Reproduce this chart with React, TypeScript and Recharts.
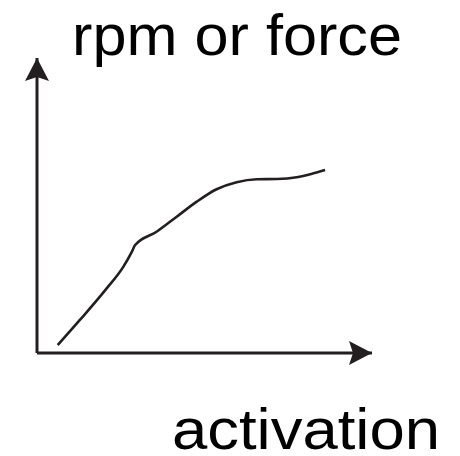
import { LineChart, Line, XAxis, YAxis, ReferenceLine, ReferenceDot } from "recharts";

// activation (x) and rpm/force (y), in arbitrary 0-100 units
const activation = [6.2, 12.8, 20.8, 25.8, 28.3, 29.3, 35.7, 41.7, 47.7, 53.6, 59.6, 65.6, 71.6, 77.5, 82.5, 86.0];
const response = [2.7, 11.2, 21.9, 29.3, 34.3, 36.6, 41.1, 46.2, 51.3, 55.5, 57.9, 58.9, 59.0, 59.6, 60.9, 62.0];

const yTitle = "rpm or force";
const xTitle = "activation";

const data = activation.map((x, i) => ({ x, y: response[i] }));

const INK = "#231f20";
const FONT = "'Liberation Sans', Arial, sans-serif";

function UpArrow({ cx, cy }: any) {
  return <polygon points={`${cx},${cy} ${cx - 12},${cy + 23} ${cx},${cy + 19} ${cx + 12},${cy + 23}`} fill={INK} />;
}

function RightArrow({ cx, cy }: any) {
  return <polygon points={`${cx},${cy} ${cx - 23},${cy - 12} ${cx - 19},${cy} ${cx - 23},${cy + 12}`} fill={INK} />;
}

export default function App() {
  return (
    <div style={{ position: "absolute", left: 0, top: 0, width: 460, height: 456, background: "white" }}>
      <LineChart
        width={460}
        height={456}
        data={data}
        margin={{ top: 58, right: 88, bottom: 103, left: 37 }}
      >
        <XAxis type="number" dataKey="x" domain={[0, 100]} hide />
        <YAxis type="number" domain={[0, 100]} hide />
        <ReferenceLine x={0} stroke={INK} strokeWidth={3} />
        <ReferenceLine y={0} stroke={INK} strokeWidth={3} />
        <ReferenceDot x={0} y={100} shape={UpArrow} />
        <ReferenceDot x={100} y={0} shape={RightArrow} />
        <Line
          type="monotone"
          dataKey="y"
          stroke={INK}
          strokeWidth={2.6}
          dot={false}
          isAnimationActive={false}
        />
        <text x={72} y={55} fontFamily={FONT} fontSize={57} textLength={330} lengthAdjust="spacingAndGlyphs" fill="#000">
          {yTitle}
        </text>
        <text x={172} y={449} fontFamily={FONT} fontSize={57} textLength={268} lengthAdjust="spacingAndGlyphs" fill="#000">
          {xTitle}
        </text>
      </LineChart>
    </div>
  );
}
